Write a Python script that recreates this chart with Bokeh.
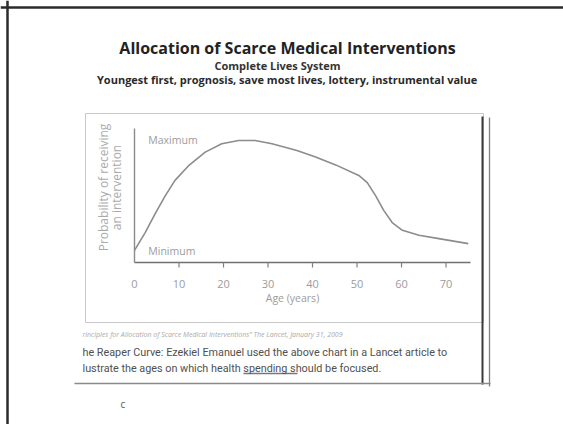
import math
from bokeh.plotting import figure
from bokeh.models import Range1d
from bokeh.core.properties import value
from bokeh.embed import file_html
from bokeh.resources import INLINE

# ---------------- data ----------------
ages = [0, 2.4, 4.65, 6.9, 9.1, 12.1, 15.9, 19.6, 23.4, 27.1, 30.9, 36.5,
        40.7, 45.2, 50.4, 52.3, 54.2, 56.0, 57.9, 60.2, 63.9, 68.4, 75.0]
probability = [0.01, 0.17, 0.34, 0.50, 0.64, 0.77, 0.895, 0.97, 1.0, 1.0, 0.97, 0.91,
               0.85, 0.78, 0.685, 0.62, 0.50, 0.37, 0.26, 0.19, 0.145, 0.115, 0.07]
age_ticks = [0, 10, 20, 30, 40, 50, 60, 70]
level_values = [1, 0]
level_labels = ["Maximum", "Minimum"]

title_text = "Allocation of Scarce Medical Interventions"
subtitle_text = "Complete Lives System"
principles_text = "Youngest first,  prognosis, save most lives, lottery, instrumental value"
citation_text = "rinciples for Allocation of Scarce Medical Interventions\u201d The Lancet, January 31, 2009"
caption_lines = ["he Reaper Curve: Ezekiel Emanuel used the above chart in a Lancet article to",
                 "lustrate the ages on which health spending should be focused."]
x_label = "Age (years)"
y_label_lines = ["Probability of receiving", "an intervention"]

# ---------------- page / slide canvas ----------------
W, H = 563, 424
p = figure(width=W, height=H, output_backend="svg", toolbar_location=None,
           x_range=Range1d(0, W), y_range=Range1d(H, 0),
           x_axis_location=None, y_axis_location=None, min_border=0)
p.outline_line_color = None
p.background_fill_color = "white"
p.border_fill_color = "white"
p.xgrid.visible = False
p.ygrid.visible = False
for r in p.center:
    r.visible = False

FONT = "Open Sans"
CHART_GREY = "#9c9c9c"

# chart region on the slide (pixels) and chart data ranges
FL, FR, FT, FB = 134, 470, 128, 262
X0, X1 = 0, 75.5
Y0, Y1 = -0.1, 1.108
PX_Y = (Y1 - Y0) / (FB - FT)          # data units per pixel (vertical)

chart = p.subplot(x_source=Range1d(X0, X1), y_source=Range1d(Y0, Y1),
                  x_target=Range1d(FL, FR), y_target=Range1d(FB, FT))

# axes
chart.segment(x0=[X0], y0=[Y0], x1=[X1], y1=[Y0], line_color="#707070", line_width=1.6)
chart.segment(x0=[X0], y0=[Y0], x1=[X0], y1=[Y1], line_color="#8a8a8a", line_width=1.4)
tick_x = [t for t in age_ticks if t > 0]
chart.segment(x0=tick_x, y0=[Y0] * len(tick_x), x1=tick_x, y1=[Y0 - 5 * PX_Y] * len(tick_x),
              line_color="#808080", line_width=1.2)
chart.text(x=age_ticks, y=[Y0 - 21 * PX_Y] * len(age_ticks), text=[str(t) for t in age_ticks],
           text_font=value(FONT), text_font_size="11px", text_color=CHART_GREY,
           text_align="center", text_baseline="middle")

# curve
chart.line(ages, probability, line_color="#8c8c8c", line_width=1.6)

# level labels
chart.text(x=3.1, y=level_values, text=level_labels, text_font=value(FONT),
           text_font_size="10.5px", text_color=CHART_GREY, text_baseline="middle",
           text_align="left")

# axis titles
p.text(x=[292], y=[297], text=[x_label], text_font=value(FONT), text_font_size="10.5px",
       text_color=CHART_GREY, text_align="center", text_baseline="middle")
p.text(x=[103, 116], y=[187, 187], text=y_label_lines, angle=math.pi / 2,
       text_font=value(FONT), text_font_size="12px", text_color="#aaaaaa",
       text_align="center", text_baseline="middle")

# ---------------- slide decorations ----------------
p.segment(x0=[0, 7], y0=[7, 0], x1=[W, 7], y1=[7, H], line_color="#2b2b2b", line_width=2.5)
p.quad(left=[85], right=[483], top=[113], bottom=[322], fill_color=None,
       line_color="#c8c8c8", line_width=1)
p.segment(x0=[482], y0=[116], x1=[482], y1=[384], line_color="#3a3a3a", line_width=2)
p.segment(x0=[489], y0=[117], x1=[489], y1=[386], line_color="#808080", line_width=1.3)
p.segment(x0=[74], y0=[383], x1=[490], y1=[383], line_color="#8a8a8a", line_width=1.5)
p.segment(x0=[243], y0=[373], x1=[297], y1=[373], line_color="#777777", line_width=1.3)

def txt(t, x, y, size, color, style="normal", align="left", font=FONT):
    p.text(x=[x], y=[y], text=[t], text_font=value(font), text_font_size=size,
           text_color=color, text_font_style=style, text_align=align,
           text_baseline="middle")

txt(title_text, 287, 47, "16px", "#222222", "bold", "center")
txt(subtitle_text, 277, 65, "11px", "#333333", "bold", "center")
txt(principles_text, 288, 79, "11px", "#2a2a2a", "bold", "center")
txt(citation_text, 82, 334, "7px", "#aaaaaa", "italic")
txt(caption_lines[0], 82, 352, "10.8px", "#505050", font="Roboto")
txt(caption_lines[1], 82, 368, "10.8px", "#505050", font="Roboto")
txt("c", 120, 403, "10px", "#555555")

open("out.html", "w").write(file_html(p, INLINE))
